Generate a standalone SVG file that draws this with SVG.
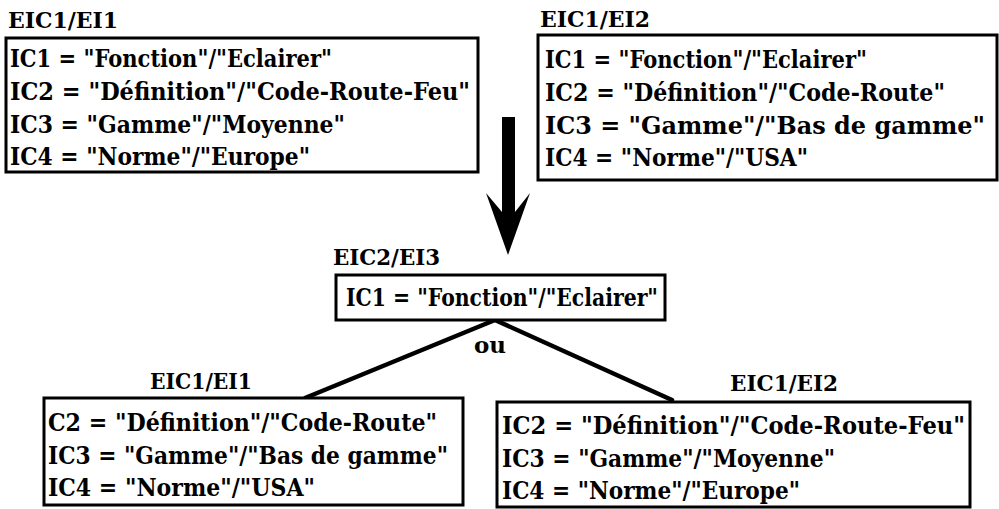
<svg xmlns="http://www.w3.org/2000/svg" width="999" height="509" viewBox="0 0 999 509">
<style>
text{font-family:"DejaVu Serif","Liberation Serif",serif;font-weight:bold;fill:#000;}
.t{font-size:24px;}
.h{font-size:23px;}
.box{fill:#fff;stroke:#000;stroke-width:3;}
.conn{stroke:#000;stroke-width:4.5;fill:none;stroke-linecap:round;}
</style>
<rect width="999" height="509" fill="#fff"/>
<g id="connectors">
<path class="conn" d="M495,320 L305,398"/>
<path class="conn" d="M495,320 L672,400"/>
<path d="M502,117 L515,117 L515,212 L530,193 L508,255 L486,193 L502,212 Z" fill="#000"/>
</g>
<g id="n1">
<text class="h" x="8" y="28" textLength="110" lengthAdjust="spacingAndGlyphs">EIC1/EI1</text>
<rect class="box" x="6" y="38" width="472" height="134"/>
<text class="t" x="10" y="67" textLength="322" lengthAdjust="spacingAndGlyphs">IC1 = "Fonction"/"Eclairer"</text>
<text class="t" x="10" y="100" textLength="460" lengthAdjust="spacingAndGlyphs">IC2 = "Définition"/"Code-Route-Feu"</text>
<text class="t" x="10" y="133" textLength="335" lengthAdjust="spacingAndGlyphs">IC3 = "Gamme"/"Moyenne"</text>
<text class="t" x="10" y="165" textLength="300" lengthAdjust="spacingAndGlyphs">IC4 = "Norme"/"Europe"</text>
</g>
<g id="n2">
<text class="h" x="540" y="27" textLength="110" lengthAdjust="spacingAndGlyphs">EIC1/EI2</text>
<rect class="box" x="538" y="35" width="459" height="145"/>
<text class="t" x="545" y="68" textLength="322" lengthAdjust="spacingAndGlyphs">IC1 = "Fonction"/"Eclairer"</text>
<text class="t" x="545" y="101" textLength="400" lengthAdjust="spacingAndGlyphs">IC2 = "Définition"/"Code-Route"</text>
<text class="t" x="545" y="134" textLength="440" lengthAdjust="spacingAndGlyphs">IC3 = "Gamme"/"Bas de gamme"</text>
<text class="t" x="545" y="166" textLength="263" lengthAdjust="spacingAndGlyphs">IC4 = "Norme"/"USA"</text>
</g>
<g id="n3">
<text class="h" x="333" y="265" textLength="107" lengthAdjust="spacingAndGlyphs">EIC2/EI3</text>
<rect class="box" x="336" y="275" width="329" height="45"/>
<text class="t" x="346" y="306" textLength="312" lengthAdjust="spacingAndGlyphs">IC1 = "Fonction"/"Eclairer"</text>
<text class="h" x="490" y="353" text-anchor="middle">ou</text>
</g>
<g id="n4">
<text class="h" x="150" y="389" textLength="102" lengthAdjust="spacingAndGlyphs">EIC1/EI1</text>
<rect class="box" x="44" y="398" width="419" height="107"/>
<text class="t" x="48" y="431" textLength="389" lengthAdjust="spacingAndGlyphs">C2 = "Définition"/"Code-Route"</text>
<text class="t" x="48" y="464" textLength="400" lengthAdjust="spacingAndGlyphs">IC3 = "Gamme"/"Bas de gamme"</text>
<text class="t" x="48" y="496" textLength="267" lengthAdjust="spacingAndGlyphs">IC4 = "Norme"/"USA"</text>
</g>
<g id="n5">
<text class="h" x="730" y="391" textLength="108" lengthAdjust="spacingAndGlyphs">EIC1/EI2</text>
<rect class="box" x="497" y="402" width="473" height="105"/>
<text class="t" x="502" y="434" textLength="463" lengthAdjust="spacingAndGlyphs">IC2 = "Définition"/"Code-Route-Feu"</text>
<text class="t" x="502" y="467" textLength="333" lengthAdjust="spacingAndGlyphs">IC3 = "Gamme"/"Moyenne"</text>
<text class="t" x="502" y="499" textLength="298" lengthAdjust="spacingAndGlyphs">IC4 = "Norme"/"Europe"</text>
</g>
</svg>
